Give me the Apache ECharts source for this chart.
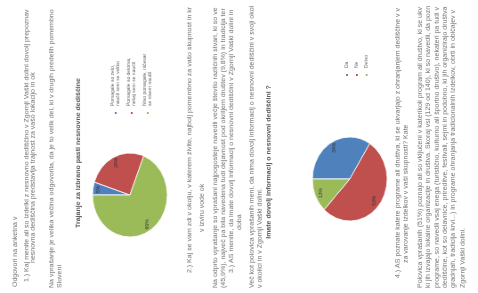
<!DOCTYPE html>
<html>
<head>
<meta charset="utf-8">
<script src="https://cdn.jsdelivr.net/npm/echarts@6/dist/echarts.min.js"></script>
<style>
html, body { margin: 0; padding: 0; background: #fff; overflow: hidden; }
/* scanned page lies on its side: draw upright, then turn it */
#chart {
  position: absolute; left: 0; top: 0;
  width: 293px; height: 537px;
  transform-origin: 0 0;
  transform: translateY(293px) rotate(-90deg) scaleY(0.89);
}
</style>
</head>
<body>
<div id="chart"></div>
<script>
const colors = ['#4f81bd', '#c0504d', '#9bbb59']

// chart 1
const cats1 = ['Pomagale so zelo, naučil sem se veliko', 'Pomagale so deloma, nekaj sem se naučil', 'Niso pomagale, ničesar se nisem naučil']
const vals1 = [5, 26, 69]
const title1 = 'Trajanje za izbrano pasti nesnovne dediščine'

// chart 2
const cats2 = ['Da', 'Ne', 'Delno']
const vals2 = [34, 53, 13]
const title2 = 'Imate dovolj informacij o nesnovni dediščini ?'

// body text of the page
const docLines = [
  'Odgovori na anketna vprašanja',
  '1.) Kaj menite ali so izdelki z nesnovno dediščino v Zgornji Vaški dolini dovolj prepoznavni in cenjeni v kraju in okolici? AS menite, da je to',
  'nesnovna dediščina predstavlja trajnost za vašo lokacijo in okolje v kraju?',
  'Na vprašanje je velika večina odgovorila, da je to velik del, ki v drugih predelih pomembno vpliva na razvoj celotne regije in drugih predelov',
  'Slovenije.',
  '2.) Kaj se vam zdi v okolju, v katerem živite, najbolj pomembno za vašo skupnost in kraj v katerem živite vsak dan, kaj vas skrbi za vodo',
  'v izviru vode okolice',
  'Na odprto vprašanje so vprašani najpogosteje navedli večje število različnih stvari, ki so vezane na naravo in vodo v svojem kraju in okolici',
  '(45,9%), največ pa bila navedena tudi dejavnost pod okriljem društev (9,8%) in tradicija ter običaji (5,7%) v kraju in v sosednjih vaseh',
  '3.) AS menite, da imate dovolj informacij o nesnovni dediščini v Zgornji Vaški dolini in v okolici? Ali 2p. Vaški dolini in drugod po kraju',
  'doba?',
  'Več kot polovica vprašanih meni, da nima dovolj informacij o nesnovni dediščini v svoji okolici in v svojem kraju, o njej pa bi radi izvedeli',
  'v okolici in v Zgornji Vaški dolini.',
  '4.) AS poznate katere programe ali društva, ki se ukvarjajo z ohranjanjem dediščine v vašem kraju in v okolici, ali ste vključeni v katerega',
  'za varovanje izdelkov v vaši skupnosti? Katere poznate?',
  'Polovica vprašanih (51%) poznajo ali so vključeni v katerikoli program ali društvo, ki se ukvarja z ohranjanjem dediščine v kraju in okolici',
  'ki jih izvajajo lokalne organizacije in društva. Skoraj vsi (129 od 140), ki so navedli, da poznajo programe v kraju, so jih tudi poimenovali',
  'programe, so navedli vsaj enega (turistično, kulturno ali športno društvo), nekateri pa tudi več programov hkrati v domačem in sosednjem kraju',
  'dediščine, kot so delavnice, prireditve, festivali, sejmi in podobno, ki jih organizirajo društva v domačem kraju in v vaseh po dolini skupaj',
  'gradnjah, tradicija krvi...) in programe ohranjanja tradicionalnih izdelkov, obrti in običajev v vseh vaseh doline ter v sosednjih občinah',
  'Zgornji Vaški dolini.'
]
// where each line sits on the upright page: [y, xStart, xEnd]
const lineLayout = [
  [17, 6, 80], [30, 11, 286], [37, 30, 221], [58, 5, 285], [67, 5, 28],
  [213, 20, 288], [227, 61, 111], [242, 5, 288], [251, 5, 288], [260, 20, 288],
  [269, 63, 80], [283, 5, 288], [292, 5, 106],
  [447, 15, 286], [456, 30, 170], [472, 5, 288], [481, 5, 288], [491, 5, 288],
  [500, 5, 288], [509, 5, 288], [520, 5, 66]
]

const bodyFont = '7px "Liberation Sans"'
const ctx = document.createElement('canvas').getContext('2d')
ctx.font = bodyFont
// cut a line so it ends at the right edge of its column
function fitLine (t, w) {
  let s = t
  while (s.length > 1 && ctx.measureText(s).width > w) s = s.slice(0, -1)
  return s
}

const mychart = echarts.init(document.getElementById('chart'))

const textEls = docLines.map((t, i) => {
  const l = lineLayout[i]
  return {
    type: 'text',
    silent: true,
    style: {
      text: fitLine(t, l[2] - l[1]),
      x: l[1],
      y: l[0],
      fill: '#707070',
      font: bodyFont,
      align: 'left',
      verticalAlign: 'middle',
      textAlign: 'left',
      textVerticalAlign: 'middle'
    }
  }
})

function titleEl (text, x, y) {
  return {
    type: 'text',
    silent: true,
    style: {
      text: text,
      x: x,
      y: y,
      fill: '#555',
      font: 'bold 7px "Liberation Sans"',
      align: 'center',
      verticalAlign: 'middle',
      textAlign: 'center',
      textVerticalAlign: 'middle'
    }
  }
}

function pieData (cats, vals) {
  return cats.map((n, i) => ({ name: n, value: vals[i] }))
}

function pieSeries (cats, vals, center, r) {
  return [{
    type: 'pie',
    center: center,
    radius: [0, r],
    startAngle: 90,
    data: pieData(cats, vals),
    label: { show: false },
    labelLine: { show: false },
    itemStyle: { borderColor: '#fff', borderWidth: 0.8 },
    emphasis: { disabled: true }
  }, {
    // label ring only, pushes the % labels out toward the rim
    type: 'pie',
    center: center,
    radius: [r * 0.55, r],
    startAngle: 90,
    silent: true,
    data: pieData(cats, vals),
    itemStyle: { color: 'transparent' },
    label: {
      position: 'inside',
      formatter: '{c}%',
      fontSize: 5,
      color: '#333',
      fontFamily: 'Liberation Sans'
    },
    labelLine: { show: false },
    emphasis: { disabled: true }
  }]
}

const option = {
  backgroundColor: '#fff',
  color: colors,
  animation: false,
  legend: [{
    data: cats1,
    orient: 'vertical',
    left: 172,
    top: 119,
    itemWidth: 4,
    itemHeight: 4,
    itemGap: 6,
    icon: 'rect',
    textStyle: { fontSize: 5, color: '#666', width: 58, overflow: 'break', lineHeight: 6, fontFamily: 'Liberation Sans' }
  }, {
    data: cats2,
    orient: 'vertical',
    left: 210,
    top: 382,
    itemWidth: 4,
    itemHeight: 4,
    itemGap: 5,
    icon: 'rect',
    textStyle: { fontSize: 5, color: '#666', fontFamily: 'Liberation Sans' }
  }],
  series: [
    ...pieSeries(cats1, vals1, [98, 146], 42),
    ...pieSeries(cats2, vals2, [114, 393], 42)
  ],
  graphic: [
    ...textEls,
    titleEl(title1, 140, 88),
    titleEl(title2, 131, 302)
  ]
}
mychart.setOption(option)
</script>
</body>
</html>
